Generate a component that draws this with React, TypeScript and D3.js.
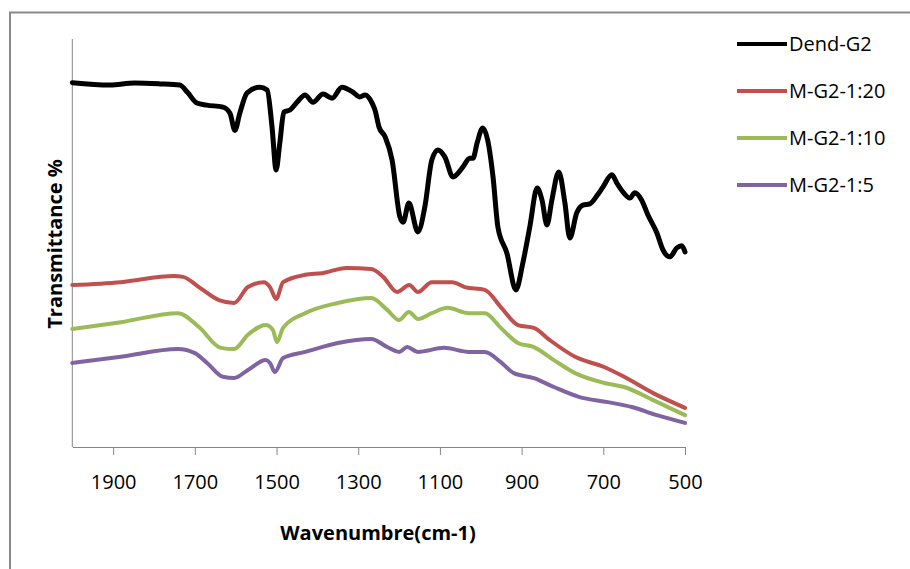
import * as d3 from "d3";
import React, { useEffect, useRef } from "react";

// x axis tick labels (cm-1)
const xTicks = [1900, 1700, 1500, 1300, 1100, 900, 700, 500];

const seriesNames = ["Dend-G2", "M-G2-1:20", "M-G2-1:10", "M-G2-1:5"];
const seriesColors = ["#000000", "#c0504d", "#9bbb59", "#8064a2"];

// [wavenumber, transmittance] pairs
const dendG2: [number, number][] = [
  [2000, 89.3], [1908, 88.7], [1847, 89.2], [1786, 89.0], [1737, 88.7],
  [1717, 86.8], [1695, 84.3], [1671, 83.8], [1631, 83.3], [1614, 81.8],
  [1602, 77.6], [1590, 81.8], [1572, 86.8], [1541, 88.2], [1523, 87.5],
  [1511, 78.4], [1501, 67.9], [1492, 74.5], [1482, 82.1], [1467, 82.6],
  [1450, 84.5], [1430, 86.3], [1411, 84.5], [1386, 86.5], [1364, 85.5],
  [1340, 88.2], [1313, 87.0], [1296, 85.8], [1283, 86.3], [1266, 84.3],
  [1259, 82.6], [1249, 78.4], [1234, 76.0], [1217, 70.3], [1198, 56.4],
  [1190, 55.1], [1176, 59.8], [1154, 52.7], [1137, 58.8], [1120, 70.3],
  [1105, 72.8], [1088, 71.1], [1068, 66.2], [1044, 68.6], [1027, 70.8],
  [1019, 70.8], [1009, 74.5], [995, 78.2], [983, 75.2], [970, 66.2],
  [958, 53.9], [936, 47.5], [914, 38.5], [897, 45.1], [880, 53.9],
  [862, 63.5], [850, 60.5], [838, 54.4], [826, 60.5], [809, 67.4],
  [794, 59.8], [782, 51.2], [765, 57.4], [750, 59.3], [733, 59.6],
  [714, 61.8], [701, 63.7], [679, 66.7], [667, 64.7], [652, 62.5],
  [635, 61.0], [623, 62.3], [606, 60.5], [591, 56.9], [569, 52.5],
  [554, 48.3], [537, 46.6], [520, 48.8], [508, 49.3], [500, 47.8],
];

const mG2_20: [number, number][] = [
  [2000, 39.7], [1881, 40.4], [1751, 41.9], [1729, 41.7], [1690, 39.2],
  [1641, 36.0], [1604, 35.3], [1570, 39.2], [1531, 40.4], [1516, 39.2],
  [1501, 36.3], [1484, 40.4], [1430, 42.2], [1388, 42.6], [1329, 43.9],
  [1268, 43.6], [1239, 41.7], [1205, 38.0], [1175, 39.7], [1154, 38.0],
  [1120, 40.4], [1070, 40.4], [1039, 39.2], [990, 38.5], [951, 34.3],
  [909, 29.9], [870, 29.2], [831, 26.2], [769, 22.1], [698, 19.6],
  [649, 17.2], [578, 13.2], [500, 9.6],
];

const mG2_10: [number, number][] = [
  [2000, 28.9], [1881, 30.6], [1741, 32.8], [1690, 29.4], [1636, 24.3],
  [1604, 24.0], [1570, 27.5], [1526, 29.9], [1509, 28.7], [1499, 25.7],
  [1484, 29.2], [1430, 32.8], [1350, 35.3], [1268, 36.5], [1229, 33.6],
  [1200, 31.1], [1176, 33.1], [1154, 31.4], [1120, 32.8], [1081, 34.1],
  [1029, 32.8], [990, 32.8], [951, 29.2], [909, 25.5], [870, 24.5],
  [821, 21.3], [769, 18.1], [698, 15.7], [649, 14.7], [578, 11.5],
  [500, 7.8],
];

const mG2_5: [number, number][] = [
  [2000, 20.6], [1881, 22.1], [1741, 24.0], [1700, 23.0], [1670, 20.6],
  [1631, 17.2], [1604, 16.9], [1570, 18.9], [1526, 21.3], [1516, 20.6],
  [1504, 18.4], [1484, 21.8], [1430, 23.3], [1350, 25.5], [1268, 26.5],
  [1229, 24.5], [1200, 23.3], [1180, 24.5], [1154, 23.3], [1090, 24.3],
  [1029, 23.3], [990, 23.3], [951, 20.8], [919, 18.1], [870, 16.9],
  [821, 14.7], [760, 12.3], [689, 11.0], [630, 9.8], [569, 7.8],
  [500, 5.9],
];

const allSeries = [dendG2, mG2_20, mG2_10, mG2_5];

const FONT = "'Open Sans', 'Liberation Sans', sans-serif";

const App: React.FC = () => {
  const ref = useRef<SVGSVGElement>(null);

  useEffect(() => {
    if (!ref.current) return;
    const svg = d3.select(ref.current);
    svg.selectAll("*").remove();

    const left = 72.3,
      right = 685,
      top = 39,
      bottom = 447;

    const x = d3.scaleLinear().domain([2000, 500]).range([left, right]);
    const y = d3.scaleLinear().domain([0, 100]).range([bottom, top]);

    // outer chart frame
    svg
      .append("rect")
      .attr("x", 10)
      .attr("y", 12.5)
      .attr("width", 920)
      .attr("height", 600)
      .attr("fill", "#fff")
      .attr("stroke", "#8a8a8a")
      .attr("stroke-width", 2);

    // y axis line (no ticks)
    svg
      .append("line")
      .attr("x1", left)
      .attr("x2", left)
      .attr("y1", top)
      .attr("y2", bottom)
      .attr("stroke", "#868686");

    // x axis
    const xAxis = svg
      .append("g")
      .attr("transform", `translate(0,${bottom})`)
      .call(
        d3
          .axisBottom(x)
          .tickValues(xTicks)
          .tickSize(8)
          .tickSizeOuter(0)
          .tickPadding(20)
          .tickFormat(d3.format("d"))
      );
    xAxis.select(".domain").attr("stroke", "#868686");
    xAxis.selectAll(".tick line").attr("stroke", "#868686");
    xAxis
      .selectAll(".tick text")
      .attr("fill", "#000")
      .style("font-family", FONT)
      .style("font-size", "20px");

    // axis titles
    svg
      .append("text")
      .attr("x", 378)
      .attr("y", 540)
      .attr("text-anchor", "middle")
      .style("font-family", FONT)
      .style("font-size", "20px")
      .style("font-weight", "bold")
      .text("Wavenumbre(cm-1)");

    svg
      .append("text")
      .attr("transform", `translate(62,244) rotate(-90)`)
      .attr("text-anchor", "middle")
      .style("font-family", FONT)
      .style("font-size", "20px")
      .style("font-weight", "bold")
      .text("Transmittance %");

    // spectra
    const line = d3
      .line<[number, number]>()
      .x((d) => x(d[0]))
      .y((d) => y(d[1]))
      .curve(d3.curveMonotoneX);

    allSeries.forEach((s, i) => {
      svg
        .append("path")
        .datum(s)
        .attr("d", line)
        .attr("fill", "none")
        .attr("stroke", seriesColors[i])
        .attr("stroke-width", i === 0 ? 5 : 4)
        .attr("stroke-linejoin", "round")
        .attr("stroke-linecap", "round");
    });

    // legend
    const legend = svg
      .append("g")
      .selectAll("g")
      .data(seriesNames)
      .enter()
      .append("g")
      .attr("transform", (_, i) => `translate(737,${44 + i * 47})`);

    legend
      .append("line")
      .attr("x1", 0)
      .attr("x2", 50)
      .attr("stroke", (_, i) => seriesColors[i])
      .attr("stroke-width", 4);

    legend
      .append("text")
      .attr("x", 52)
      .attr("dy", "0.35em")
      .style("font-family", FONT)
      .style("font-size", "20px")
      .text((d) => d);
  }, []);

  return (
    <svg
      ref={ref}
      width={910}
      height={569}
      style={{ position: "absolute", left: 0, top: 0, background: "#fff" }}
    />
  );
};

export default App;
